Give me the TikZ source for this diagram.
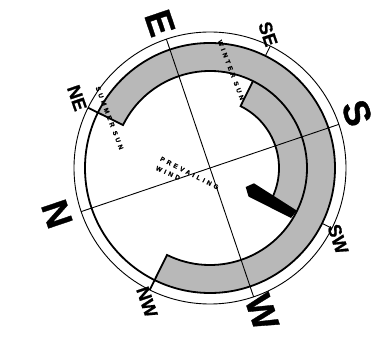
\documentclass[tikz,border=0pt]{standalone}
\usepackage{fontspec}
\usepackage{xcolor}
\setmainfont{Liberation Sans}[BoldFont={Liberation Sans Bold},BoldFeatures={FakeBold=0.9}]
\newfontfamily\tinylabel[LetterSpace=45,BoldFont={Liberation Sans Bold},BoldFeatures={FakeBold=0.6}]{Liberation Sans}
\definecolor{sunband}{RGB}{184,184,184}
\tikzset{
  thinline/.style={line width=0.9pt},
  ringline/.style={line width=1.8pt},
  bigdir/.style={font=\fontsize{37}{37}\selectfont\bfseries, rotate=-71.3, inner sep=0pt},
  meddir/.style={font=\fontsize{18.5}{18}\selectfont\bfseries, rotate=-71.3, inner sep=0pt},
  sunlabel/.style={font=\fontsize{6.4}{7}\tinylabel\bfseries, rotate=-69, inner sep=0pt},
  windlabel/.style={font=\fontsize{6.4}{7}\tinylabel\bfseries, inner sep=0pt}
}

\begin{document}
\begin{tikzpicture}[x=1pt, y=1pt]
    \useasboundingbox (-210,-171) rectangle (173,168);

    % Sun bands
    \fill[sunband] (153.7:125) arc[start angle=153.7, end angle=-116.3, radius=125]
      -- (-116.3:97) arc[start angle=-116.3, end angle=153.7, radius=97] -- cycle;
    \fill[sunband] (63.7:97) arc[start angle=63.7, end angle=-26.3, radius=97]
      -- (-26.3:69) arc[start angle=-26.3, end angle=63.7, radius=69] -- cycle;

    % Rings
    \draw[thinline] (0,0) circle (136);
    \draw[ringline] (0,0) circle (125);
    \draw[ringline] (153.7:136) -- (153.7:97) arc[start angle=153.7, end angle=-116.3, radius=97] -- (-116.3:136);
    \draw[ringline] (63.7:97) -- (63.7:69) arc[start angle=63.7, end angle=-26.3, radius=69];

    % Compass lines
    \draw[thinline] (198.7:136) -- (18.7:136);
    \draw[thinline] (108.7:136) -- (-71.3:136);
    \draw[thinline] (63.7:125) -- (63.7:136);
    \draw[thinline] (-26.3:125) -- (-26.3:136);

    % Wind bar
    \fill (35.7,-19) -- (44,-15.3) -- (87,-42.7) -- (81,-50) -- (38.5,-28.5) -- cycle;

    % Directions
    \node[bigdir] (dirE) at (-50,145) {E};
    \node[bigdir] (dirS) at (147,55) {S};
    \node[bigdir] (dirN) at (-153,-46) {N};
    \node[bigdir] (dirW) at (52,-144) {W};
    \node[meddir] (dirSE) at (58,134) {SE};
    \node[meddir] (dirNE) at (-133,70) {NE};
    \node[meddir] (dirSW) at (128,-71) {SW};
    \node[meddir] (dirNW) at (-63,-134) {NW};

    % Small labels
    \node[sunlabel] (summer) at (-100.5,50) {SUMMER SUN};
    \node[sunlabel] (winter) at (21,98) {WINTER SUN};
    \node[windlabel, rotate=-27] (prevail) at (-20.5,-5) {PREVAILING};
    \node[windlabel, rotate=-24] (wind) at (-42,-5) {WIND};
\end{tikzpicture}
\end{document}
